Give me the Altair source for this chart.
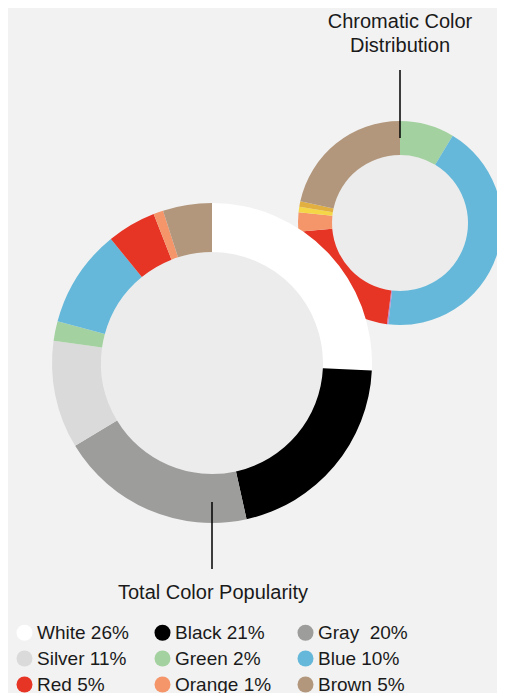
import altair as alt
import pandas as pd

# ---- data ----
total_labels = ["White 26%", "Black 21%", "Gray \u00a020%", "Silver 11%", "Green 2%",
                "Blue 10%", "Red 5%", "Orange 1%", "Brown 5%"]
total_values = [26, 21, 20, 11, 2, 10, 5, 1, 5]
total_colors = ["#ffffff", "#000000", "#9d9d9c", "#dadada", "#a4d1a0",
                "#65b8d9", "#e63425", "#f4956a", "#b2977c"]
# legend is laid out column by column: this is the reading order of its grid
legend_order = ["White 26%", "Silver 11%", "Red 5%",
                "Black 21%", "Green 2%", "Orange 1%",
                "Gray \u00a020%", "Blue 10%", "Brown 5%"]

chroma_names = ["Green", "Blue", "Purple", "Red", "Orange", "Yellow", "Gold", "Brown"]
chroma_values = [2, 10, 0.05, 5, 0.7, 0.2, 0.2, 5]
chroma_colors = ["#a4d1a0", "#65b8d9", "#b48ccf", "#e63425", "#f4956a",
                 "#f4d647", "#e2b041", "#b2977c"]

title_small = ["Chromatic Color", "Distribution"]
title_big = "Total Color Popularity"

FONT = "Liberation Sans"
TXT = "#1a1a1a"
HOLE = "#ececec"

color_of = dict(zip(total_labels, total_colors))
legend_colors = [color_of[l] for l in legend_order]

total_df = pd.DataFrame({"label": total_labels, "value": total_values,
                         "idx": list(range(len(total_labels)))})
chroma_df = pd.DataFrame({"name": chroma_names, "value": chroma_values,
                          "idx": list(range(len(chroma_names)))})
one_df = pd.DataFrame({"v": [1]})

# centers (chart coordinates)
BX, BY = 204, 355
SX, SY = 392, 215

small_hole = alt.Chart(one_df).mark_arc(outerRadius=68, color=HOLE).encode(
    theta=alt.Theta("v:Q"), x=alt.value(SX), y=alt.value(SY))

small_ring = alt.Chart(chroma_df).mark_arc(outerRadius=102, innerRadius=68).encode(
    theta=alt.Theta("value:Q", stack=True),
    color=alt.Color("name:N", scale=alt.Scale(domain=chroma_names, range=chroma_colors),
                    legend=None),
    order=alt.Order("idx:Q"),
    x=alt.value(SX), y=alt.value(SY))

big_hole = alt.Chart(one_df).mark_arc(outerRadius=111, color=HOLE).encode(
    theta=alt.Theta("v:Q"), x=alt.value(BX), y=alt.value(BY))

big_ring = alt.Chart(total_df).mark_arc(outerRadius=160, innerRadius=111).encode(
    theta=alt.Theta("value:Q", stack=True),
    color=alt.Color("label:N",
                    scale=alt.Scale(domain=legend_order, range=legend_colors),
                    legend=alt.Legend(orient="none", legendX=7, legendY=615, columns=3,
                                      title=None, symbolType="circle", symbolSize=256,
                                      symbolStrokeWidth=0, symbolOpacity=1,
                                      labelFont=FONT, labelFontSize=19, labelColor=TXT,
                                      labelOffset=3, rowPadding=6, columnPadding=24,
                                      labelLimit=300)),
    order=alt.Order("idx:Q"),
    x=alt.value(BX), y=alt.value(BY))

rule_small = alt.Chart(one_df).mark_rule(color="#000000", strokeWidth=1.5).encode(
    x=alt.value(SX), y=alt.value(62), y2=alt.value(130))
rule_big = alt.Chart(one_df).mark_rule(color="#000000", strokeWidth=1.5).encode(
    x=alt.value(BX), y=alt.value(494), y2=alt.value(561))

text_small = alt.Chart(one_df).mark_text(font=FONT, fontSize=20, color=TXT, align="center",
                                          baseline="alphabetic", lineHeight=24).encode(
    x=alt.value(SX), y=alt.value(20), text=alt.value(title_small))
text_big = alt.Chart(one_df).mark_text(font=FONT, fontSize=20, color=TXT, align="center",
                                        baseline="alphabetic").encode(
    x=alt.value(BX + 1), y=alt.value(591), text=alt.value(title_big))

chart = alt.layer(small_hole, small_ring, big_hole, big_ring,
                  rule_small, rule_big, text_small, text_big).resolve_scale(
    color="independent", theta="independent"
).properties(
    width=489, height=685, padding=0, autosize=alt.AutoSizeParams(type="none"),
    background="#f2f2f2"
).configure_view(stroke=None)

chart.save("out.html", embed_options={"renderer": "svg", "actions": False})
